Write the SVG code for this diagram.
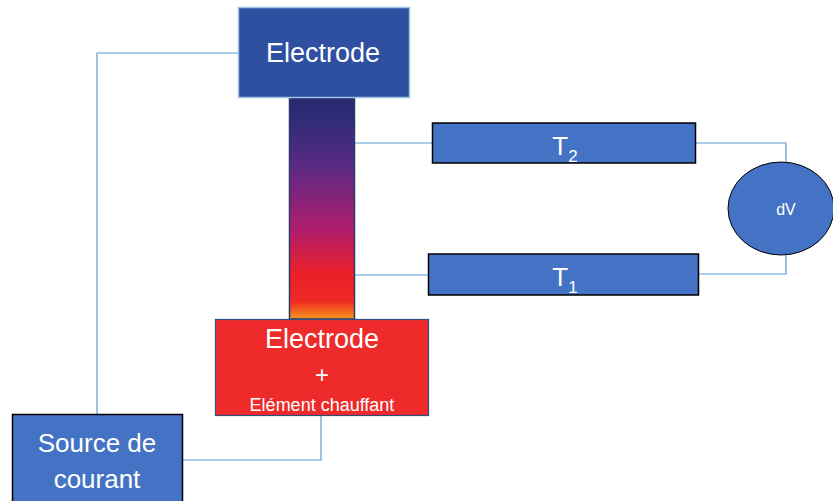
<svg xmlns="http://www.w3.org/2000/svg" width="833" height="501" viewBox="0 0 833 501">
<style>
.t{font-family:"Liberation Sans",Arial,sans-serif;fill:#fff;text-anchor:middle}
.c{fill:none;stroke:#5B9BD5;stroke-width:1.2}
.blue{fill:#4472C4;stroke:#000;stroke-width:1.5}
</style>
<defs>
<linearGradient id="g" x1="0" y1="0" x2="0" y2="1">
<stop offset="0" stop-color="#292A70"/>
<stop offset="0.1" stop-color="#2E2B78"/>
<stop offset="0.32" stop-color="#5C2A85"/>
<stop offset="0.6" stop-color="#B01D6C"/>
<stop offset="0.8" stop-color="#EC2027"/>
<stop offset="0.92" stop-color="#EE2A24"/>
<stop offset="1" stop-color="#F7941D"/>
</linearGradient>
</defs>
<rect width="833" height="501" fill="#fff"/>
<g id="connectors">
<polyline class="c" points="97,414 97,53 238,53"/>
<polyline class="c" points="321,415 321,460 182,460"/>
<polyline class="c" points="354,143 452,143"/>
<polyline class="c" points="354,275 428,275"/>
<polyline class="c" points="695,143 786,143 786,162"/>
<polyline class="c" points="786,255 786,274 699,274"/>
</g>
<g id="column">
<rect x="289.5" y="96" width="65" height="223" fill="url(#g)" stroke="#2B3A66" stroke-width="1.5"/>
</g>
<g id="electrode-top">
<rect x="238.5" y="7.5" width="171" height="90" fill="#2F4FA1" stroke="#9DC3E6" stroke-width="1.5"/>
<text class="t" x="323" y="62" font-size="27">Electrode</text>
</g>
<g id="electrode-bottom">
<rect x="215.5" y="319.5" width="213" height="96" fill="#EE2A2A" stroke="#2F4F80" stroke-width="1.2"/>
<text class="t" x="322" y="348" font-size="27">Electrode</text>
<text class="t" x="322" y="383" font-size="24">+</text>
<text class="t" x="322" y="411" font-size="18">Elément chauffant</text>
</g>
<g id="source">
<rect x="12.5" y="414.5" width="170" height="92" class="blue"/>
<text class="t" x="97" y="452" font-size="26">Source de</text>
<text class="t" x="97" y="488" font-size="26">courant</text>
</g>
<g id="T2">
<rect x="432.5" y="123" width="263" height="40" class="blue"/>
<text class="t" x="565" y="155" font-size="26">T<tspan font-size="17" dy="7">2</tspan></text>
</g>
<g id="T1">
<rect x="428.5" y="254" width="270" height="41" class="blue"/>
<text class="t" x="565" y="286" font-size="26">T<tspan font-size="17" dy="7">1</tspan></text>
</g>
<g id="dV">
<ellipse cx="781" cy="208.5" rx="53" ry="46.5" fill="#4472C4" stroke="#000" stroke-width="1"/>
<text class="t" x="786" y="215" font-size="16">dV</text>
</g>
</svg>
